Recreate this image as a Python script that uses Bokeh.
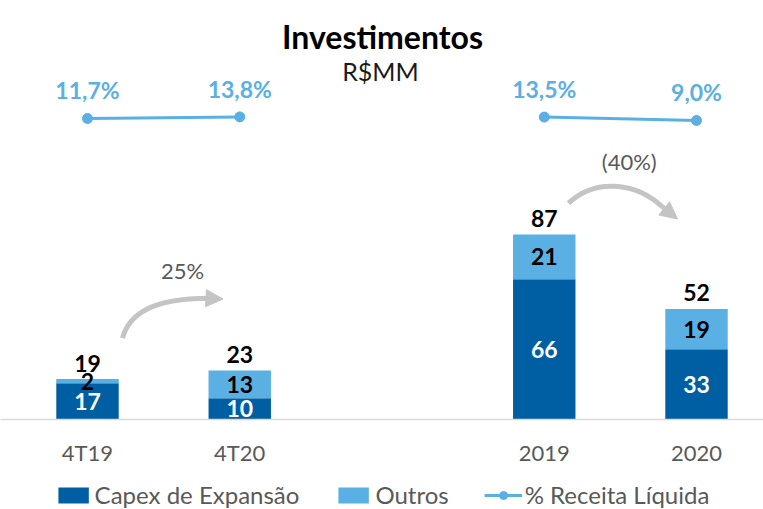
from bokeh.plotting import figure
from bokeh.layouts import column
from bokeh.models import (Range1d, FixedTicker, ColumnDataSource, Legend, LegendItem,
                          Label, Arrow, NormalHead)
from bokeh.core.properties import value
from bokeh.embed import file_html
from bokeh.resources import INLINE

# ---------------- data ----------------
slots = ["4T19", "4T20", "", "2019", "2020"]          # "" = gap between groups
categories = ["4T19", "4T20", "2019", "2020"]
capex = [17, 10, 66, 33]
outros = [2, 13, 21, 19]
totals = [19, 23, 87, 52]
pct = [11.7, 13.8, 13.5, 9.0]
pct_labels = ["11,7%", "13,8%", "13,5%", "9,0%"]
growth_labels = ["25%", "(40%)"]
series_names = ["Capex de Expansão", "Outros", "% Receita Líquida"]
title_text = "Investimentos"
subtitle_text = "R$MM"

# ---------------- style ----------------
FONT = "Lato"
DARK = "#005EA2"
LIGHT = "#5AAFE3"
LINE = "#5AAFE3"
GREY_TXT = "#595959"
ARROW = "#C4C4C4"

x = [slots.index(c) for c in categories]
src = ColumnDataSource(dict(
    x=x,
    capex=capex,
    top=[c + o for c, o in zip(capex, outros)],
    capex_mid=[c / 2 for c in capex],
    out_mid=[c + o / 2 for c, o in zip(capex, outros)],
    capex_txt=[str(v) for v in capex],
    out_txt=[str(v) for v in outros],
    tot_txt=[str(v) for v in totals],
    pct=pct,
    pct_txt=pct_labels,
))

FH = 419
p = figure(width=763, height=476, output_backend="svg", toolbar_location=None,
           x_range=Range1d(-0.5714, 4.440), y_range=Range1d(0, 197.1),
           y_axis_location=None,
           min_border_left=0, min_border_right=0, min_border_top=0, min_border_bottom=57,
           outline_line_color=None)
p.grid.visible = False
p.extra_y_ranges = {"pct": Range1d(-389.67, 169.0)}

BW = 0.41
p.vbar(x="x", width=BW, bottom=0, top="capex", source=src, fill_color=DARK, line_color=None)
p.vbar(x="x", width=BW, bottom="capex", top="top", source=src, fill_color=LIGHT, line_color=None)

common = dict(text_font=value(FONT), text_font_style="bold", text_font_size="23px",
              text_align="center", text_baseline="middle", source=src)
p.text(x="x", y="capex_mid", text="capex_txt", text_color="white", **common)
p.text(x="x", y="out_mid", text="out_txt", text_color="black", **common)
p.text(x="x", y="top", text="tot_txt", text_color="black", y_offset=-16, **common)

# % receita line, two segments (one per group)
for grp in (categories[:2], categories[2:]):
    idx = [categories.index(c) for c in grp]
    s = ColumnDataSource(dict(x=[x[i] for i in idx], y=[pct[i] for i in idx]))
    p.line("x", "y", source=s, y_range_name="pct", line_color=LINE, line_width=3)
    p.scatter("x", "y", source=s, y_range_name="pct", marker="circle", size=10,
              fill_color=LINE, line_color=LINE)
p.text(x="x", y="pct", text="pct_txt", y_range_name="pct", text_color=LINE,
       y_offset=-28, text_font=value(FONT), text_font_style="bold", text_font_size="23px",
       text_align="center", text_baseline="middle", source=src)

# growth arrows (decoration, placed relative to the bars)
arrow_specs = [
    dict(x0=x[0] + 0.23, y0=totals[0] + 19.3, cx0=x[0] + 0.27, cy0=totals[0] + 30,
         cx1=x[0] + 0.41, cy1=totals[0] + 38, x1=x[0] + 0.80, y1=totals[0] + 38,
         tx=x[0] + 0.89, ty=totals[0] + 37.7, lx=x[0] + 0.624, ly=totals[0] + 51.3),
    dict(x0=x[2] + 0.159, y0=totals[2] + 14.8, cx0=x[2] + 0.337, cy0=totals[2] + 26.6,
         cx1=x[2] + 0.599, cy1=totals[2] + 24.7, x1=x[2] + 0.777, y1=totals[2] + 12.95,
         tx=x[2] + 0.875, ty=totals[2] + 7.3, lx=x[2] + 0.558, ly=totals[2] + 34.2),
]
for spec, gl in zip(arrow_specs, growth_labels):
    p.bezier(x0=[spec["x0"]], y0=[spec["y0"]], x1=[spec["x1"]], y1=[spec["y1"]],
             cx0=[spec["cx0"]], cy0=[spec["cy0"]], cx1=[spec["cx1"]], cy1=[spec["cy1"]],
             line_color=ARROW, line_width=5)
    p.add_layout(Arrow(end=NormalHead(size=17, fill_color=ARROW, line_color=ARROW),
                       x_start=spec["x1"], y_start=spec["y1"], x_end=spec["tx"], y_end=spec["ty"],
                       line_color=ARROW, line_width=5))
    p.add_layout(Label(x=spec["lx"], y=spec["ly"], text=gl, text_color=GREY_TXT,
                       text_font=FONT, text_font_size="22px",
                       text_align="center", text_baseline="middle"))

# titles (screen units relative to the frame's bottom-left)
p.add_layout(Label(x=382, y=FH - 36, x_units="screen", y_units="screen", text=title_text,
                   text_font=FONT, text_font_style="bold", text_font_size="32px",
                   text_color="black", text_align="center", text_baseline="alphabetic"))
p.add_layout(Label(x=380, y=FH - 70, x_units="screen", y_units="screen", text=subtitle_text,
                   text_font=FONT, text_font_size="25px",
                   text_color="#1A1A1A", text_align="center", text_baseline="alphabetic"))

# x axis
ax = p.xaxis[0]
ax.ticker = FixedTicker(ticks=x)
ax.major_label_overrides = {xi: c for xi, c in zip(x, categories)}
ax.major_tick_line_color = None
ax.minor_tick_line_color = None
ax.axis_line_color = "#D9D9D9"
ax.axis_line_width = 1.5
ax.major_label_text_font = FONT
ax.major_label_text_font_size = "22px"
ax.major_label_text_color = GREY_TXT
ax.major_label_standoff = 13

# ---------------- legend strip (separate small figure) ----------------
lg = figure(width=763, height=33, output_backend="svg", toolbar_location=None,
            x_range=Range1d(0, 1), y_range=Range1d(0, 1),
            x_axis_location=None, y_axis_location=None,
            min_border_left=0, min_border_right=0, min_border_top=0, min_border_bottom=0,
            outline_line_color=None)
lg.grid.visible = False
offscreen = ColumnDataSource(dict(x=[-10, -9], y=[-10, -10]))   # swatch renderers, kept off view
l_capex = lg.vbar(x="x", top="y", width=0.5, source=offscreen, fill_color=DARK, line_color=None)
l_out = lg.vbar(x="x", top="y", width=0.5, source=offscreen, fill_color=LIGHT, line_color=None)
l_line = lg.line("x", "y", source=offscreen, line_color=LINE, line_width=3)
l_pts = lg.scatter("x", "y", source=offscreen, marker="circle", size=10,
                   fill_color=LINE, line_color=LINE)
legend = Legend(items=[
    LegendItem(label=series_names[0], renderers=[l_capex]),
    LegendItem(label=series_names[1], renderers=[l_out]),
    LegendItem(label=series_names[2], renderers=[l_line, l_pts]),
], orientation="horizontal", location="bottom_center", glyph_width=38, glyph_height=20,
    label_standoff=3, spacing=35, padding=0, margin=0, border_line_color=None,
    background_fill_alpha=0, label_text_font=FONT, label_text_font_size="24px",
    label_text_color=GREY_TXT)
lg.add_layout(legend, "center")

layout = column(p, lg, spacing=0)
open("out.html", "w").write(file_html(layout, INLINE))
